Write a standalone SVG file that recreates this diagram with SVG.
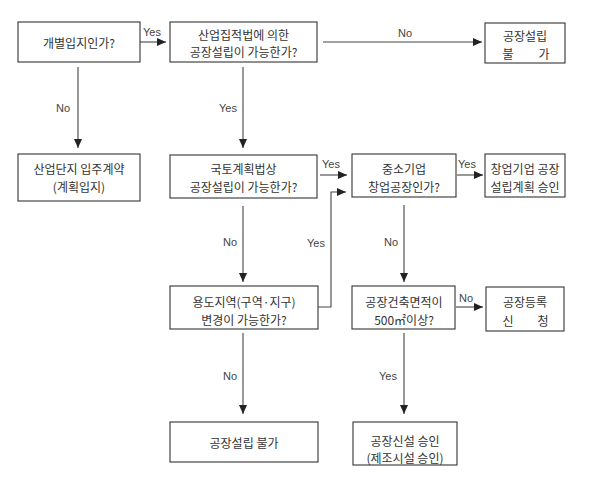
<svg xmlns="http://www.w3.org/2000/svg" width="593" height="485" viewBox="0 0 593 485">
<style>
.box{fill:#fff;stroke:#333;stroke-width:1.1}
.t{font-family:"Noto Sans CJK KR","Noto Sans",sans-serif;font-size:12px;fill:#333;text-anchor:middle;dominant-baseline:central}
.lbl{font-family:"Liberation Sans",Arial,sans-serif;font-size:11px;fill:#444;text-anchor:middle}
.c{fill:none;stroke:#444;stroke-width:1.1;marker-end:url(#ah)}
.cn{fill:none;stroke:#444;stroke-width:1.1}
</style>
<defs>
<marker id="ah" markerUnits="userSpaceOnUse" markerWidth="10" markerHeight="8" refX="9" refY="4" orient="auto">
<path d="M0,0 L9,4 L0,8 z" fill="#222"/>
</marker>
</defs>
<rect width="593" height="485" fill="#fff"/>
<g id="connectors">
<line class="c" x1="140" y1="42" x2="166" y2="42"/>
<line class="c" x1="78" y1="67" x2="78" y2="148"/>
<line class="c" x1="243" y1="67" x2="243" y2="148"/>
<line class="c" x1="323" y1="42" x2="482" y2="42"/>
<line class="c" x1="320" y1="175" x2="347" y2="175"/>
<polyline class="c" points="318,307 331,307 331,192 346,192"/>
<line class="c" x1="457" y1="175" x2="483" y2="175"/>
<line class="c" x1="243" y1="206" x2="243" y2="282"/>
<line class="c" x1="404" y1="205" x2="404" y2="282"/>
<line class="c" x1="243" y1="333" x2="243" y2="414"/>
<line class="c" x1="404" y1="333" x2="404" y2="414"/>
<line class="c" x1="456" y1="307" x2="483" y2="307"/>
<text class="lbl" x="152" y="36">Yes</text>
<text class="lbl" x="63" y="112">No</text>
<text class="lbl" x="228" y="112">Yes</text>
<text class="lbl" x="405" y="37">No</text>
<text class="lbl" x="331" y="168">Yes</text>
<text class="lbl" x="467" y="168">Yes</text>
<text class="lbl" x="230" y="246">No</text>
<text class="lbl" x="316" y="247">Yes</text>
<text class="lbl" x="391" y="246">No</text>
<text class="lbl" x="230" y="380">No</text>
<text class="lbl" x="388" y="380">Yes</text>
<text class="lbl" x="466" y="302">No</text>
</g>
<g id="n1"><rect class="box" x="18" y="22" width="122" height="40"/><text class="t" x="79" y="42">개별입지인가?</text></g>
<g id="n2"><rect class="box" x="170" y="22" width="147" height="40"/><text class="t" x="243.5" y="34">산업집적법에 의한</text><text class="t" x="243.5" y="51">공장설립이 가능한가?</text></g>
<g id="n3"><rect class="box" x="485" y="23" width="80" height="40"/><text class="t" x="525" y="35">공장설립</text><text class="t" y="53"><tspan x="508">불</tspan><tspan x="544">가</tspan></text></g>
<g id="n4"><rect class="box" x="18" y="154" width="122" height="47"/><text class="t" x="79" y="168">산업단지 입주계약</text><text class="t" x="79" y="186">(계획입지)</text></g>
<g id="n5"><rect class="box" x="170" y="155" width="147" height="43"/><text class="t" x="243.5" y="168">국토계획법상</text><text class="t" x="243.5" y="186">공장설립이 가능한가?</text></g>
<g id="n6"><rect class="box" x="352" y="154" width="104" height="43"/><text class="t" x="404" y="168">중소기업</text><text class="t" x="404" y="186">창업공장인가?</text></g>
<g id="n7"><rect class="box" x="485" y="154" width="80" height="43"/><text class="t" x="525" y="168">창업기업 공장</text><text class="t" x="525" y="186">설립계획 승인</text></g>
<g id="n8"><rect class="box" x="170" y="286" width="148" height="43"/><text class="t" x="244" y="301">용도지역(구역·지구)</text><text class="t" x="244" y="319">변경이 가능한가?</text></g>
<g id="n9"><rect class="box" x="352" y="286" width="103" height="43"/><text class="t" x="404" y="301">공장건축면적이</text><text class="t" x="404" y="319">500㎡이상?</text></g>
<g id="n10"><rect class="box" x="486" y="287" width="78" height="44"/><text class="t" x="525" y="301">공장등록</text><text class="t" y="320"><tspan x="508">신</tspan><tspan x="543">청</tspan></text></g>
<g id="n11"><rect class="box" x="170" y="422" width="148" height="40"/><text class="t" x="244" y="442">공장설립 불가</text></g>
<g id="n12"><rect class="box" x="353" y="422" width="104" height="43"/><text class="t" x="405" y="440">공장신설 승인</text><text class="t" x="405" y="457">(제조시설 승인)</text></g>
</svg>
